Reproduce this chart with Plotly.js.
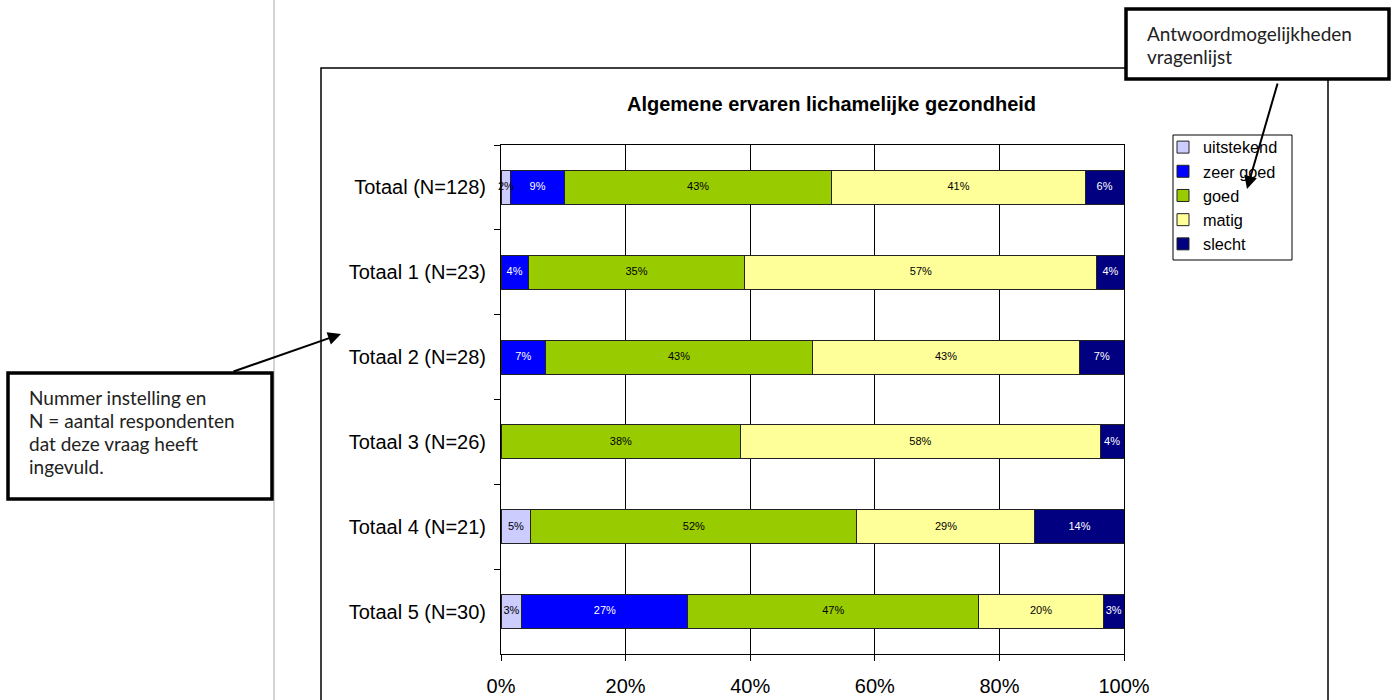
<!DOCTYPE html>
<html>
<head>
<meta charset="utf-8">
<script src="https://cdn.plot.ly/plotly-3.0.1.min.js"></script>
<style>html,body{margin:0;padding:0;background:#fff;}#chart{width:1399px;height:700px;}</style>
</head>
<body>
<div id="chart"></div>
<script>
// Data (percentages)
const categories = ['Totaal (N=128)', 'Totaal 1 (N=23)', 'Totaal 2 (N=28)', 'Totaal 3 (N=26)', 'Totaal 4 (N=21)', 'Totaal 5 (N=30)'];
const seriesNames = ['uitstekend', 'zeer goed', 'goed', 'matig', 'slecht'];
const uitstekend = [1.56, 0, 0, 0, 4.76, 3.33];
const zeerGoed   = [8.59, 4.35, 7.14, 0, 0, 26.67];
const goed       = [42.97, 34.78, 42.86, 38.46, 52.38, 46.67];
const matig      = [40.63, 56.52, 42.86, 57.69, 28.57, 20.00];
const slecht     = [6.25, 4.35, 7.14, 3.85, 14.29, 3.33];
const xTicks = [0, 20, 40, 60, 80, 100];
const chartTitle = 'Algemene ervaren lichamelijke gezondheid';
const noteLegend = ['Antwoordmogelijkheden', 'vragenlijst'];
const noteAxis = ['Nummer instelling en', 'N = aantal respondenten', 'dat deze vraag heeft', 'ingevuld.'];

const seriesValues = [uitstekend, zeerGoed, goed, matig, slecht];
const colors = ['#CCCCFF', '#0000FF', '#99CC00', '#FFFF99', '#000080'];
const textColors = ['#000', '#fff', '#000', '#000', '#fff'];

// Pixel -> paper helpers (plot area 501..1124 x, 145..654 y)
const L = 501, R = 1124, T = 145, B = 654;
const px = v => (v - L) / (R - L);
const py = v => (B - v) / (B - T);

const arial = 'Liberation Sans, Arial, sans-serif';

const barTraces = seriesNames.map((name, i) => ({
  type: 'bar',
  orientation: 'h',
  name: name,
  y: categories,
  x: seriesValues[i],
  textposition: 'none',
  marker: {color: colors[i], line: {color: '#222', width: 1}},
  hoverinfo: 'name+x'
}));

// Value labels centred in each segment (positions derived from the data through the axes)
const labelTraces = seriesNames.map((name, i) => {
  const mids = categories.map((c, k) => {
    let start = 0;
    for (let j = 0; j < i; j++) start += seriesValues[j][k];
    return start + seriesValues[i][k] / 2;
  });
  return {
    type: 'scatter', mode: 'text', showlegend: false, hoverinfo: 'skip',
    y: categories, x: mids,
    text: seriesValues[i].map(v => v > 0 ? Math.round(v) + '%' : ''),
    textposition: 'middle center',
    textfont: {family: arial, size: 11, color: textColors[i]},
    cliponaxis: false
  };
});

const boxFont = {family: 'Lato, "Open Sans", sans-serif', size: 19, color: '#222'};

const annotations = [
  {xref: 'paper', yref: 'paper', x: px(831), y: py(104), text: '<b>' + chartTitle + '</b>',
   showarrow: false, xanchor: 'center', yanchor: 'middle',
   font: {family: arial, size: 20, color: '#000'}},
  // arrows
  {xref: 'paper', yref: 'paper', x: px(1247), y: py(189), text: '', showarrow: true,
   ax: 1278 - 1247, ay: 82 - 189, arrowhead: 2, arrowsize: 1.3, arrowwidth: 2, arrowcolor: '#000'},
  {xref: 'paper', yref: 'paper', x: px(341), y: py(334), text: '', showarrow: true,
   ax: 232 - 341, ay: 372 - 334, arrowhead: 2, arrowsize: 1.3, arrowwidth: 2, arrowcolor: '#000'}
];
noteLegend.forEach((t, i) => annotations.push({
  xref: 'paper', yref: 'paper', x: px(1145), y: py(33 + i * 24), text: t,
  showarrow: false, xanchor: 'left', yanchor: 'middle', align: 'left', font: boxFont}));
noteAxis.forEach((t, i) => annotations.push({
  xref: 'paper', yref: 'paper', x: px(27), y: py(397 + i * 23.3), text: t,
  showarrow: false, xanchor: 'left', yanchor: 'middle', align: 'left', font: boxFont}));

const layout = {
  width: 1399, height: 700,
  margin: {l: L, r: 1399 - R, t: T, b: 700 - B, pad: 0},
  paper_bgcolor: '#fff', plot_bgcolor: '#fff',
  barmode: 'stack',
  bargap: 0.6,
  showlegend: true,
  legend: {
    x: px(1163), y: py(130), xanchor: 'left', yanchor: 'top',
    traceorder: 'normal',
    borderwidth: 0, bgcolor: 'rgba(0,0,0,0)',
    font: {family: arial, size: 16.3, color: '#000'},
    itemwidth: 30, tracegroupgap: 0
  },
  xaxis: {
    range: [0, 100], tickvals: xTicks, ticktext: xTicks.map(v => v + '%'),
    showgrid: true, gridcolor: '#000', gridwidth: 1,
    showline: true, linecolor: '#000', linewidth: 1, mirror: true,
    ticks: 'outside', ticklen: 6, tickcolor: '#000',
    ticklabelstandoff: 8,
    zeroline: false,
    tickfont: {family: arial, size: 20, color: '#000'},
    fixedrange: true
  },
  yaxis: {
    type: 'category', autorange: 'reversed',
    showline: true, linecolor: '#000', linewidth: 1, mirror: true,
    ticks: 'outside', tickson: 'boundaries', ticklen: 6, tickcolor: '#000',
    ticklabelstandoff: 10,
    showgrid: false,
    tickfont: {family: arial, size: 20, color: '#000'},
    fixedrange: true
  },
  shapes: [
    // grey page rule
    {type: 'line', xref: 'paper', yref: 'paper', x0: px(274), x1: px(274), y0: py(0), y1: py(700), line: {color: '#aaa', width: 1}, layer: 'below'},
    // outer chart frame
    {type: 'rect', xref: 'paper', yref: 'paper', x0: px(321), x1: px(1328), y0: py(68), y1: py(710), line: {color: '#000', width: 1.5}, layer: 'below'},
    // legend frame
    {type: 'rect', xref: 'paper', yref: 'paper', x0: px(1173), x1: px(1292), y0: py(135), y1: py(260), fillcolor: '#fff', line: {color: '#000', width: 1}},
    // callout boxes
    {type: 'rect', xref: 'paper', yref: 'paper', x0: px(1126), x1: px(1389), y0: py(9), y1: py(79), fillcolor: '#fff', line: {color: '#000', width: 3.5}},
    {type: 'rect', xref: 'paper', yref: 'paper', x0: px(8), x1: px(272), y0: py(373), y1: py(499), fillcolor: '#fff', line: {color: '#000', width: 3.5}}
  ],
  annotations: annotations
};

Plotly.newPlot('chart', barTraces.concat(labelTraces), layout, {displayModeBar: false, staticPlot: true});
</script>
</body>
</html>
